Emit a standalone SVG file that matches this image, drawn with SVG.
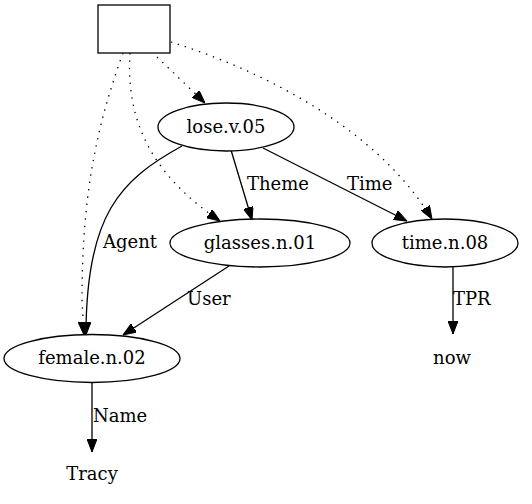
<svg xmlns="http://www.w3.org/2000/svg" width="532" height="504" viewBox="0 0 532 504">
<style>
.n{fill:#fff;stroke:#000;stroke-width:1.3}
.t{font-family:"DejaVu Serif",serif;font-size:18px;fill:#000;text-anchor:middle}
.l{font-family:"DejaVu Serif",serif;font-size:18px;fill:#000}
.e{fill:none;stroke:#000;stroke-width:1.3}
.d{stroke-dasharray:1.4,6}
</style>
<defs>
<marker id="a" viewBox="0 0 13 10" refX="13" refY="5" markerWidth="13" markerHeight="10" markerUnits="userSpaceOnUse" orient="auto">
<path d="M0,0 L13,5 L0,10 z" fill="#000" stroke="#000" stroke-width="1"/>
</marker>
</defs>
<rect width="532" height="504" fill="#fff"/>
<g id="edges">
<path class="e d" d="M157,57 L205,103" marker-end="url(#a)"/>
<path class="e d" d="M171,42 C255,68 375,125 432,219" marker-end="url(#a)"/>
<path class="e d" d="M130,53 C125,130 160,180 220,221" marker-end="url(#a)"/>
<path class="e d" d="M123,53 C95,130 82,200 82,300 L84,335" marker-end="url(#a)"/>
<path class="e" d="M182,146 C120,180 86,215 86,335" marker-end="url(#a)"/>
<path class="e" d="M231,150 L252,220" marker-end="url(#a)"/>
<path class="e" d="M263,148 L407,221" marker-end="url(#a)"/>
<path class="e" d="M229,266 L123,335" marker-end="url(#a)"/>
<path class="e" d="M453,267 L453,334" marker-end="url(#a)"/>
<path class="e" d="M92,383 L92,452" marker-end="url(#a)"/>
<text class="l" x="247" y="190">Theme</text>
<text class="l" x="347" y="190">Time</text>
<text class="l" x="103" y="248">Agent</text>
<text class="l" x="187" y="305">User</text>
<text class="l" x="453" y="305">TPR</text>
<text class="l" x="93" y="422">Name</text>
</g>
<g id="box"><rect class="n" x="98" y="5" width="72" height="48"/></g>
<g id="lose"><ellipse class="n" cx="226" cy="127" rx="68" ry="24"/><text class="t" x="226" y="133">lose.v.05</text></g>
<g id="glasses"><ellipse class="n" cx="260" cy="243" rx="90" ry="24"/><text class="t" x="260" y="249">glasses.n.01</text></g>
<g id="time"><ellipse class="n" cx="445" cy="243" rx="73" ry="24"/><text class="t" x="445" y="249">time.n.08</text></g>
<g id="female"><ellipse class="n" cx="92" cy="358.5" rx="88" ry="24"/><text class="t" x="92" y="364">female.n.02</text></g>
<g id="now"><text class="t" x="452" y="364">now</text></g>
<g id="tracy"><text class="t" x="92" y="480">Tracy</text></g>
</svg>
